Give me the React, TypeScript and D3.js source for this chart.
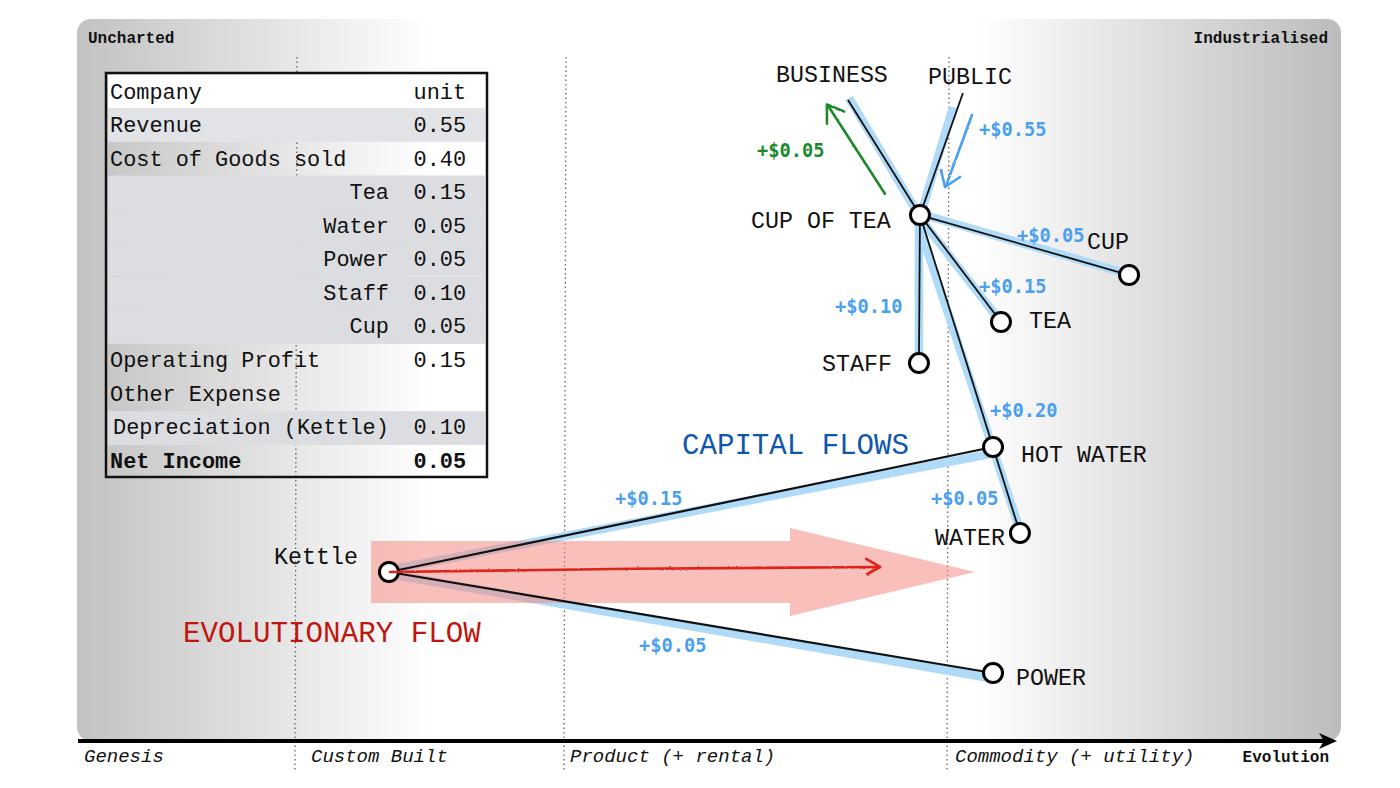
import React from 'react';
import * as d3 from 'd3';

// map values: evolution and visibility both run 0..1 across the grey panel
const nodeNames = ['CUP OF TEA', 'CUP', 'TEA', 'STAFF', 'HOT WATER', 'WATER', 'POWER', 'Kettle'];
const nodeEvolution = [0.6669, 0.8323, 0.731, 0.6661, 0.7247, 0.746, 0.7247, 0.2468];
const nodeVisibility = [0.7285, 0.6454, 0.5803, 0.5235, 0.4072, 0.2881, 0.0942, 0.2341];

const anchorNames = ['BUSINESS', 'PUBLIC'];
const anchorEvolution = [0.61, 0.7009];
const anchorVisibility = [0.8878, 0.8975];

// black links, by name
const linkFrom = ['CUP OF TEA', 'CUP OF TEA', 'CUP OF TEA', 'CUP OF TEA', 'CUP OF TEA', 'CUP OF TEA', 'HOT WATER', 'Kettle', 'Kettle'];
const linkTo = ['BUSINESS', 'PUBLIC', 'CUP', 'TEA', 'STAFF', 'HOT WATER', 'WATER', 'HOT WATER', 'POWER'];

// blue capital flow bands, drawn by hand so they do not sit exactly on the links
const flowFromE = [0.6654, 0.6677, 0.6677, 0.6669, 0.6661, 0.6646, 0.2468, 0.2468];
const flowFromV = [0.7299, 0.7299, 0.7299, 0.7244, 0.7244, 0.7216, 0.2368, 0.2313];
const flowToE = [0.6108, 0.693, 0.8291, 0.7278, 0.6661, 0.7468, 0.7223, 0.7223];
const flowToV = [0.8906, 0.8781, 0.6482, 0.5873, 0.5208, 0.2881, 0.3975, 0.0873];

const blueAmounts = ['+$0.55', '+$0.05', '+$0.15', '+$0.10', '+$0.20', '+$0.05', '+$0.15', '+$0.05'];
const greenAmount = '+$0.05';

const stageNames = ['Genesis', 'Custom Built', 'Product (+ rental)', 'Commodity (+ utility)'];

const tableLabels = ['Company', 'Revenue', 'Cost of Goods sold', 'Tea', 'Water', 'Power', 'Staff', 'Cup', 'Operating Profit', 'Other Expense', 'Depreciation (Kettle)', 'Net Income'];
const tableValues = ['unit', '0.55', '0.40', '0.15', '0.05', '0.05', '0.10', '0.05', '0.15', '', '0.10', '0.05'];

// layout only
const W = 1400, H = 788;
const panel = { x0: 77, x1: 1341, y0: 19, y1: 741 };
const x = d3.scaleLinear().domain([0, 1]).range([panel.x0, panel.x1]);
const y = d3.scaleLinear().domain([0, 1]).range([panel.y1, panel.y0]);
const line = d3.line<[number, number]>().x(d => x(d[0])).y(d => y(d[1]));

const mono = '"Liberation Mono", monospace';
const sans = '"DejaVu Sans Mono", monospace';
const blue = '#4a9ff0';
const green = '#1a8a2c';
const red = '#e0231a';

const nodeLabelPos: Record<string, [number, number]> = {
  'CUP OF TEA': [751, 228], CUP: [1087, 249], TEA: [1029, 328], STAFF: [822, 371],
  'HOT WATER': [1021, 462], WATER: [935, 545], POWER: [1016, 685], Kettle: [274, 564],
  BUSINESS: [776, 82], PUBLIC: [928, 84],
};
const bluePos = [[979, 136], [1017, 242], [979, 293], [835, 313], [990, 417], [931, 505], [615, 505], [639, 652]];
const stageX = [84, 311, 570, 955];
const dividers = [[297, 295], [566, 564], [949, 947]];

const table = { x0: 106, x1: 487, y0: 73, y1: 477, rowH: 33.67 };
const rowFill = ['#ffffff', '#e2e3e6', 'none', '#dcdde0', '#dcdde0', '#dcdde0', '#dcdde0', '#dcdde0', 'none', 'none', '#dcdde0', 'none'];

const pos = (name: string): [number, number] => {
  let i = nodeNames.indexOf(name);
  if (i >= 0) return [nodeEvolution[i], nodeVisibility[i]];
  i = anchorNames.indexOf(name);
  return [anchorEvolution[i], anchorVisibility[i]];
};

// big pink arrow outline
const evoTail = 0.2326, evoShoulder = 0.5641, evoTip = 0.7104, evoMid = 0.2341, evoBody = 0.0429, evoHead = 0.0609;
const evoArrow: [number, number][] = [
  [evoTail, evoMid + evoBody], [evoShoulder, evoMid + evoBody], [evoShoulder, evoMid + evoHead], [evoTip, evoMid],
  [evoShoulder, evoMid - evoHead], [evoShoulder, evoMid - evoBody], [evoTail, evoMid - evoBody],
];

// sketched arrows: shaft, then head
const sketches: { color: string; shaft: [number, number][]; head: [number, number][] }[] = [
  { color: red, shaft: [[0.2476, 0.2341], [0.44, 0.2385], [0.6353, 0.241]], head: [[0.6244, 0.2521], [0.6353, 0.241], [0.6252, 0.2313]] },
  { color: green, shaft: [[0.6392, 0.758], [0.5941, 0.8802]], head: [[0.5933, 0.855], [0.5933, 0.8816], [0.6068, 0.8719]] },
  { color: blue, shaft: [[0.708, 0.867], [0.6875, 0.7687]], head: [[0.6835, 0.7909], [0.6867, 0.7673], [0.6986, 0.7812]] },
];

export default function App() {
  return (
    <svg width={W} height={H} viewBox={`0 0 ${W} ${H}`} style={{ position: 'absolute', left: 0, top: 0, background: '#fff' }}>
      <defs>
        <linearGradient id="panelFill" x1="0" x2="1" y1="0" y2="0">
          <stop offset="0" stopColor="#c2c2c2" />
          <stop offset="0.28" stopColor="#ffffff" />
          <stop offset="0.71" stopColor="#ffffff" />
          <stop offset="1" stopColor="#bcbcbc" />
        </linearGradient>
        <filter id="rough" filterUnits="userSpaceOnUse" x="0" y="0" width={W} height={H}>
          <feTurbulence type="fractalNoise" baseFrequency="0.5" numOctaves="2" seed="3" />
          <feDisplacementMap in="SourceGraphic" scale="2.2" />
        </filter>
      </defs>

      <rect x={panel.x0} y={panel.y0} width={panel.x1 - panel.x0} height={panel.y1 - panel.y0} rx={14} fill="url(#panelFill)" />

      {dividers.map((d, i) => (
        <line key={i} x1={d[0]} x2={d[1]} y1={57} y2={772} stroke="#666" strokeWidth={1.3} strokeDasharray="1.5 3" />
      ))}

      <text x={88} y={43} fontFamily={mono} fontWeight="bold" fontSize={16} fill="#111">Uncharted</text>
      <text x={1328} y={43} textAnchor="end" fontFamily={mono} fontWeight="bold" fontSize={16} fill="#111">Industrialised</text>

      {tableLabels.map((label, i) => {
        const rowY = table.y0 + 1.5 + i * table.rowH;
        const base = rowY + 24 - i * 0.11;
        const indented = i >= 3 && i <= 7;
        const bold = i === tableLabels.length - 1;
        return (
          <g key={label} fontFamily={mono} fontSize={21.9} fill="#111" fontWeight={bold ? 'bold' : 'normal'}>
            {rowFill[i] !== 'none' && <rect x={table.x0 + 2} y={rowY} width={table.x1 - table.x0 - 4} height={table.rowH} fill={rowFill[i]} />}
            <text x={indented ? 389 : label.startsWith('Depreciation') ? 113 : 110} y={base} textAnchor={indented ? 'end' : 'start'}>{label}</text>
            <text x={413.5} y={base}>{tableValues[i]}</text>
          </g>
        );
      })}
      <rect x={table.x0} y={table.y0} width={table.x1 - table.x0} height={table.y1 - table.y0} fill="none" stroke="#111" strokeWidth={2.5} />

      {flowFromE.map((_, i) => (
        <path key={i} d={line([[flowFromE[i], flowFromV[i]], [flowToE[i], flowToV[i]]]) ?? ''} stroke="#b0dbf8" strokeWidth={8.5} fill="none" />
      ))}

      <path d={(line(evoArrow) ?? '') + 'Z'} fill="#f28a84" opacity={0.55} />

      {linkFrom.map((from, i) => (
        <path key={i} d={line([pos(from), pos(linkTo[i])]) ?? ''} stroke="#111" strokeWidth={i >= 7 ? 2.2 : 1.8} fill="none" />
      ))}

      {nodeNames.map((name, i) => (
        <circle key={name} cx={x(nodeEvolution[i])} cy={y(nodeVisibility[i])} r={9.5} fill="#fff" stroke="#000" strokeWidth={3} />
      ))}

      {sketches.map((s, i) => (
        <g key={i} stroke={s.color} strokeWidth={2.6} fill="none" strokeLinecap="round" strokeLinejoin="round" filter="url(#rough)">
          <path d={line(s.shaft) ?? ''} />
          <path d={line(s.head) ?? ''} />
        </g>
      ))}

      {[...nodeNames, ...anchorNames].map(name => (
        <text key={name} x={nodeLabelPos[name][0]} y={nodeLabelPos[name][1]} fontFamily={mono} fontSize={23.3} fill="#111">{name}</text>
      ))}

      {blueAmounts.map((amount, i) => (
        <text key={i} x={bluePos[i][0]} y={bluePos[i][1]} fontFamily={sans} fontWeight="bold" fontSize={18.7} fill={blue}>{amount}</text>
      ))}
      <text x={757} y={157} fontFamily={sans} fontWeight="bold" fontSize={18.7} fill={green}>{greenAmount}</text>

      <text x={682} y={454} fontFamily={mono} fontSize={29.1} fill="#0f56ad">CAPITAL FLOWS</text>
      <text x={183} y={642} fontFamily={mono} fontSize={29.2} fill="#c0160f">EVOLUTIONARY FLOW</text>

      <line x1={78} x2={1326} y1={741} y2={741} stroke="#000" strokeWidth={4} />
      <path d="M1319,733 L1337,741 L1319,749 L1324,741 Z" fill="#000" />

      {stageNames.map((stage, i) => (
        <text key={stage} x={stageX[i]} y={762} fontFamily={mono} fontStyle="italic" fontSize={19} fill="#111">{stage}</text>
      ))}
      <text x={1329} y={762} textAnchor="end" fontFamily={mono} fontWeight="bold" fontSize={16} fill="#111">Evolution</text>
    </svg>
  );
}
